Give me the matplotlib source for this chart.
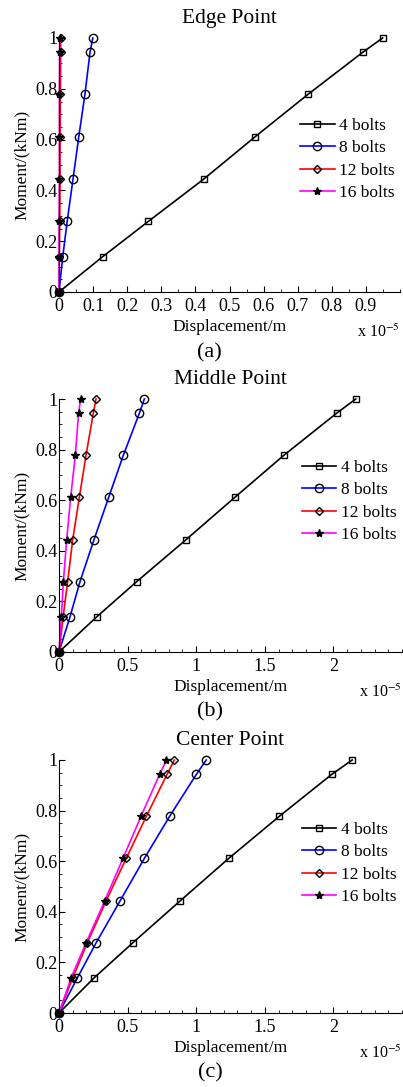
import matplotlib
matplotlib.use('Agg')
import matplotlib.pyplot as plt
from matplotlib.ticker import MultipleLocator

plt.rcParams['font.family'] = ['Liberation Serif', 'DejaVu Serif']
plt.rcParams['mathtext.fontset'] = 'stix'

# moment levels (kNm), shared by all series
moment = [0, 0.139, 0.278, 0.444, 0.611, 0.778, 0.944, 1.0]

series_names = ['4 bolts', '8 bolts', '12 bolts', '16 bolts']

# displacement in units of 1e-5 m
edge_4 = [0, 0.128, 0.262, 0.424, 0.575, 0.730, 0.891, 0.949]
edge_8 = [0, 0.011, 0.024, 0.041, 0.058, 0.076, 0.091, 0.099]
edge_12 = [0, 0.001, 0.002, 0.003, 0.003, 0.004, 0.005, 0.005]
edge_16 = [0, 0.000, 0.000, 0.001, 0.001, 0.001, 0.002, 0.002]

mid_4 = [0, 0.275, 0.566, 0.926, 1.281, 1.640, 2.024, 2.163]
mid_8 = [0, 0.080, 0.153, 0.255, 0.362, 0.469, 0.586, 0.622]
mid_12 = [0, 0.030, 0.063, 0.100, 0.148, 0.197, 0.250, 0.270]
mid_16 = [0, 0.017, 0.032, 0.056, 0.085, 0.119, 0.143, 0.158]

cen_4 = [0, 0.256, 0.539, 0.885, 1.237, 1.607, 1.990, 2.137]
cen_8 = [0, 0.134, 0.271, 0.446, 0.622, 0.807, 1.002, 1.073]
cen_12 = [0, 0.100, 0.207, 0.344, 0.490, 0.637, 0.788, 0.841]
cen_16 = [0, 0.088, 0.198, 0.334, 0.466, 0.598, 0.734, 0.783]

panels = [
    ('Edge Point', '(a)', [edge_4, edge_8, edge_12, edge_16], 1.0, 0.1, 0.05, 0.685),
    ('Middle Point', '(b)', [mid_4, mid_8, mid_12, mid_16], 2.5, 0.5, 0.1, 0.759),
    ('Center Point', '(c)', [cen_4, cen_8, cen_12, cen_16], 2.5, 0.5, 0.1, 0.755),
]

colors = ['black', 'blue', 'red', 'magenta']
markers = ['s', 'o', 'D', '*']
msizes = [5.0, 6.0, 4.5, 6.0]

W, H = 403, 1087
fig = plt.figure(figsize=(W / 100, H / 100), dpi=100)

# axes rectangles in pixels: left, right, top, bottom
boxes = [(59, 400, 38, 292), (59, 402, 399, 652), (59, 402, 760, 1013)]

for (title, tag, data, xmax, major, minor, leg_y), (l, r, t, b) in zip(panels, boxes):
    ax = fig.add_axes([l / W, 1 - b / H, (r - l) / W, (b - t) / H])
    for xs, c, m, ms, name in zip(data, colors, markers, msizes, series_names):
        ax.plot(xs, moment, color=c, lw=1.2, marker=m, ms=ms,
                mfc='none' if m != '*' else 'black', mec='black', mew=1.0,
                label=name, clip_on=False)
    ax.set_xlim(0, xmax)
    ax.set_ylim(0, 1)
    ax.spines['top'].set_visible(False)
    ax.spines['right'].set_visible(False)
    ax.xaxis.set_major_locator(MultipleLocator(major))
    ax.xaxis.set_minor_locator(MultipleLocator(minor))
    ax.yaxis.set_major_locator(MultipleLocator(0.2))
    ax.yaxis.set_minor_locator(MultipleLocator(0.05))
    ax.tick_params(which='both', direction='in', labelsize=13)
    ax.tick_params(axis='x', pad=4)
    ax.tick_params(axis='y', pad=1)
    ax.tick_params(which='major', length=4)
    ax.tick_params(which='minor', length=2)
    ticks = [v for v in ax.get_xticks() if v < xmax - 1e-9 and v >= 0]
    ax.set_xticks(ticks)
    ax.set_xticklabels(['%g' % v for v in ticks])
    ax.set_yticks([0, 0.2, 0.4, 0.6, 0.8, 1])
    ax.set_yticklabels(['0', '0.2', '0.4', '0.6', '0.8', '1'])
    ax.set_title(title, fontsize=15.5, pad=11)
    ax.set_xlabel('Displacement/m', fontsize=12.5, labelpad=3)
    ax.set_ylabel('Moment/(kNm)', fontsize=12.5, labelpad=4)
    ax.text(1.0, -0.125, r'x 10$^{-5}$', transform=ax.transAxes,
            ha='right', va='top', fontsize=11.5)
    ax.text(0.44, -0.2, tag, transform=ax.transAxes, ha='center', va='top',
            fontsize=16)
    ax.legend(loc='upper left', bbox_to_anchor=(0.707, leg_y), frameon=False,
              fontsize=12.5, handlelength=2.0, handletextpad=0.25,
              labelspacing=0.35, borderpad=0, borderaxespad=0)

fig.savefig('out.png', dpi=100)
